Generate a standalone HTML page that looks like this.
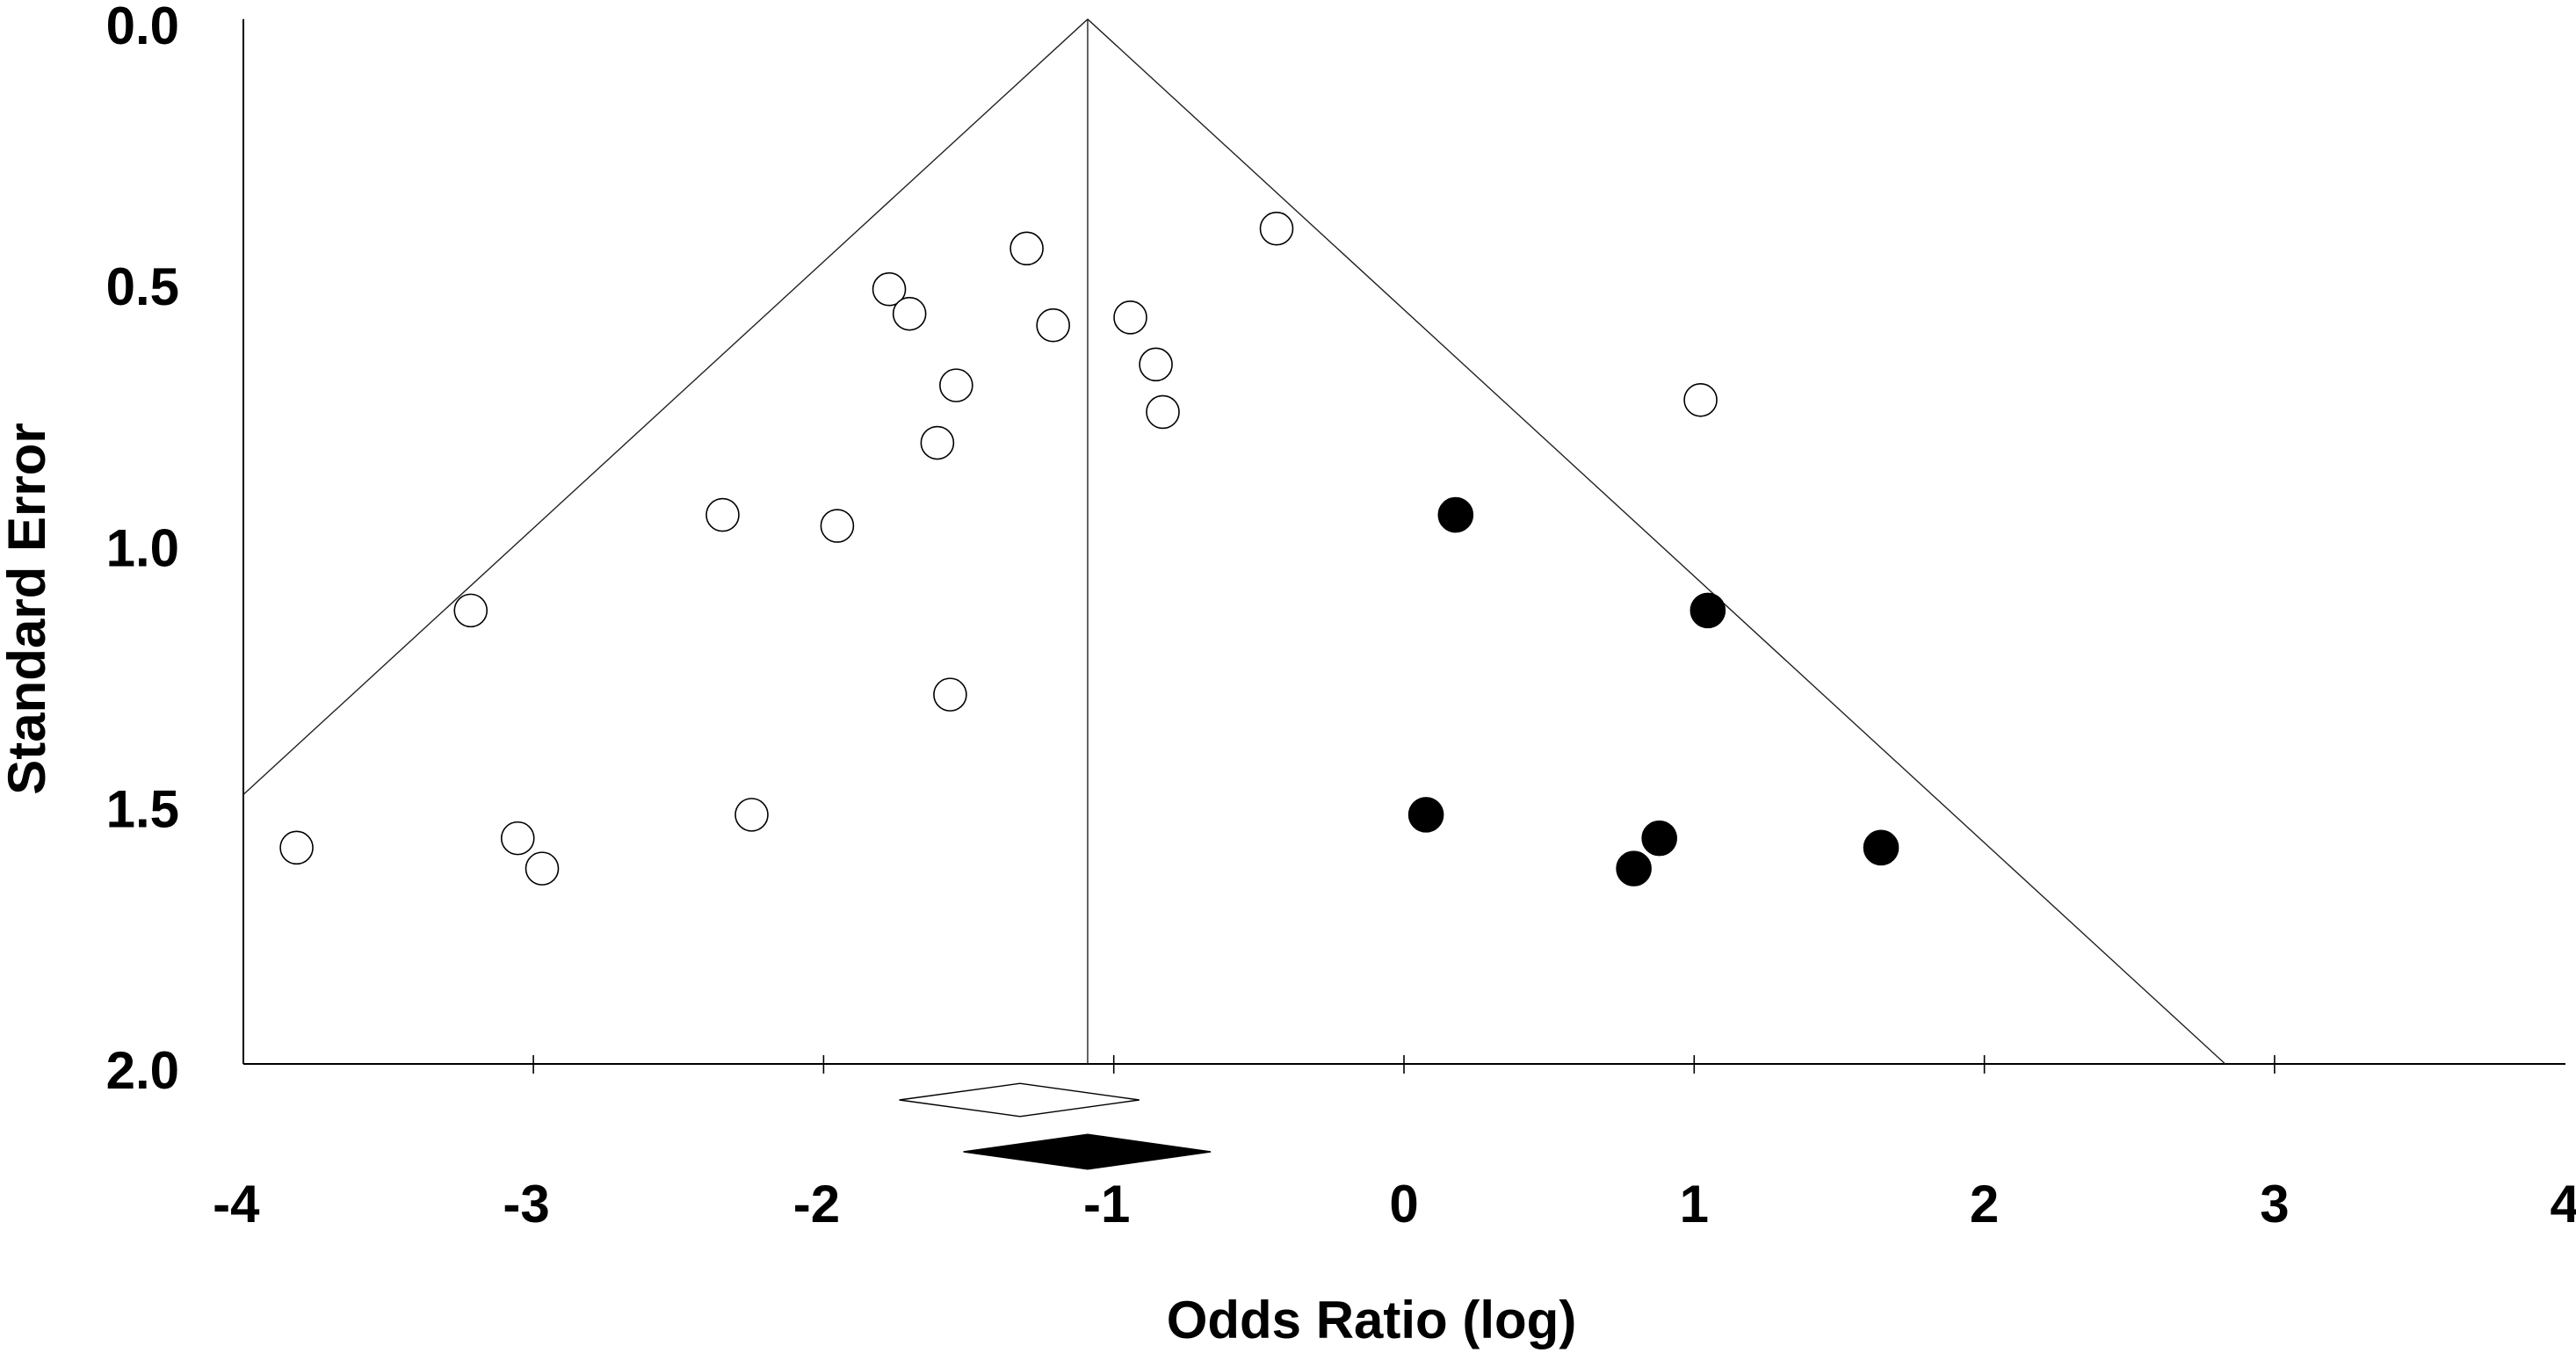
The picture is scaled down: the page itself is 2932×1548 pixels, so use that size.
<!DOCTYPE html>
<html><head><meta charset="utf-8"><style>
html,body{margin:0;padding:0;background:#fff}
svg{display:block}
text{font-family:"Liberation Sans",Arial,sans-serif;font-weight:bold;fill:#000}
</style></head><body>
<svg id="chart" width="2932" height="1548" viewBox="0 0 2932 1548" xmlns="http://www.w3.org/2000/svg">
<g id="axes"></g>
<g id="funnel"></g>
<g id="points"></g>
<g id="diamonds"></g>
<text x="0" y="0" font-size="60" text-anchor="middle" transform="translate(51,693) rotate(-90)">Standard Error</text>
<text x="1561" y="1523" font-size="60" text-anchor="middle">Odds Ratio (log)</text>
</svg>
<script>
const xTicks=[-4,-3,-2,-1,0,1,2,3,4];
const yTicks=[0.0,0.5,1.0,1.5,2.0];
const openX=[-1.30,-1.774,-1.704,-1.209,-0.943,-0.855,-0.831,-1.543,-1.608,-2.348,-1.953,-3.216,-1.564,-2.248,-3.816,-3.054,-2.970,-0.439,1.022];
const openSE=[0.439,0.517,0.564,0.586,0.571,0.661,0.752,0.701,0.811,0.949,0.970,1.132,1.293,1.523,1.586,1.568,1.626,0.401,0.729];
const filledX=[0.178,1.047,0.076,0.880,0.792,1.644];
const filledSE=[0.949,1.132,1.523,1.568,1.626,1.586];
const pooled=-1.09;
const observedDiamond=[-1.739,-1.323,-0.912];
const adjustedDiamond=[-1.518,-1.090,-0.666];

const NS="http://www.w3.org/2000/svg";
const X0=277,X1=2920,Y0=21.8,Y1=1211;
const xs=v=>1598+330.3*v;
const ys=s=>Y0+(Y1-Y0)*s/2;
function mk(tag,attrs,parent){const e=document.createElementNS(NS,tag);for(const k in attrs)e.setAttribute(k,attrs[k]);parent.appendChild(e);return e;}
const axes=document.getElementById('axes');
let l=mk('line',{x1:X0,y1:Y0,x2:X0,y2:Y1,stroke:'#000','stroke-width':2},axes);


l=mk('line',{x1:X0,y1:Y1,x2:X1,y2:Y1,stroke:'#000','stroke-width':2},axes);


xTicks.forEach(v=>{
  if(v>-4&&v<4){const t=mk('line',{x1:xs(v),y1:Y1-10,x2:xs(v),y2:Y1+11,stroke:'#000','stroke-width':1.6},axes);
  
  }
  const tx=mk('text',{x:xs(v)-(v<0?8:0),y:1391,'font-size':60,'text-anchor':'middle'},axes);
  tx.textContent=String(v);
  
  
});
yTicks.forEach(s=>{
  const tx=mk('text',{x:204,y:ys(s)+28,'font-size':60,'text-anchor':'end'},axes);
  tx.textContent=s.toFixed(1);
  
  
});
const fun=document.getElementById('funnel');
l=mk('line',{x1:xs(pooled),y1:ys(0),x2:xs(pooled),y2:Y1,stroke:'#222','stroke-width':1.4},fun);


const seL=(pooled-(-4))/1.96;
l=mk('line',{x1:xs(pooled),y1:ys(0),x2:xs(-4),y2:ys(seL),stroke:'#222','stroke-width':1.4},fun);


l=mk('line',{x1:xs(pooled),y1:ys(0),x2:xs(pooled+1.96*2),y2:ys(2),stroke:'#222','stroke-width':1.4},fun);


const pts=document.getElementById('points');
openX.forEach((v,i)=>{
  const c=mk('circle',{cx:xs(v),cy:ys(openSE[i]),r:18.5,fill:'#fff',stroke:'#000','stroke-width':1.6},pts);
  
  
});
filledX.forEach((v,i)=>{
  const c=mk('circle',{cx:xs(v),cy:ys(filledSE[i]),r:19.5,fill:'#000',stroke:'#000','stroke-width':1.6},pts);
  
  
});
const dg=document.getElementById('diamonds');
function diamond(d,cy,h,fill,name){
  const p=`${xs(d[0])},${cy} ${xs(d[1])},${cy-h} ${xs(d[2])},${cy} ${xs(d[1])},${cy+h}`;
  const e=mk('polygon',{points:p,fill:fill,stroke:'#000','stroke-width':1.4},dg);
  
  
}
diamond(observedDiamond,1252,18.8,'#fff','observed-summary-diamond');
diamond(adjustedDiamond,1311,19.8,'#000','adjusted-summary-diamond');
</script>
</body></html>
